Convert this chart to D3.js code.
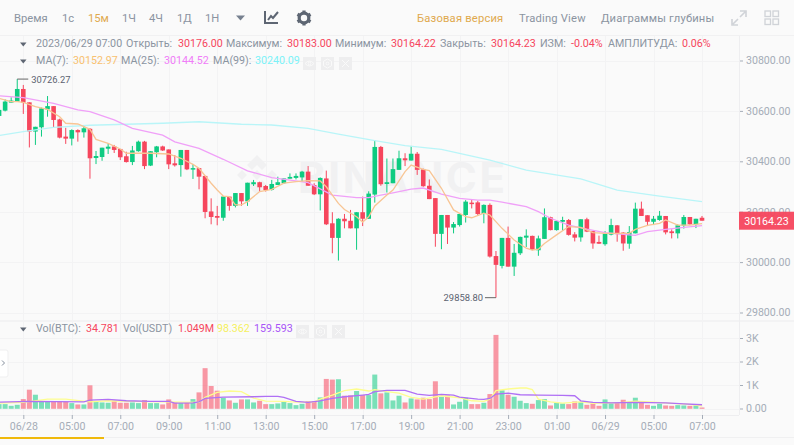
<!DOCTYPE html>
<html><head><meta charset="utf-8">
<script src="https://cdnjs.cloudflare.com/ajax/libs/d3/7.8.5/d3.min.js"></script>
<style>html,body{margin:0;padding:0;background:#fafafa;overflow:hidden}svg{display:block}text{font-family:Roboto,"Noto Sans",sans-serif}</style>
</head><body><svg id="c" width="794" height="445"></svg>
<script>
const opens=[30580,30601,30633,30637,30687,30634,30518,30535,30606,30619,30566,30498,30490,30524,30515,30529,30413,30417,30450,30459,30449,30420,30397,30440,30478,30383,30436,30459,30447,30392,30385,30445,30367,30373,30342,30201,30183,30176,30260,30223,30274,30241,30309,30317,30302,30287,30306,30313,30331,30334,30336,30359,30306,30269,30332,30154,30096,30172,30164,30134,30198,30172,30268,30457,30310,30313,30366,30412,30403,30430,30368,30303,30254,30112,30187,30137,30147,30187,30236,30237,30191,30227,30024,29985,30096,29982,30035,30097,30104,30047,30092,30178,30127,30160,30167,30110,30098,30170,30123,30080,30071,30109,30146,30117,30073,30114,30212,30186,30160,30167,30183,30122,30114,30145,30179,30150,30176];
const closes=[30604,30637,30641,30687,30633,30518,30537,30610,30619,30564,30494,30490,30524,30515,30531,30412,30421,30454,30458,30445,30416,30397,30443,30478,30381,30440,30459,30443,30388,30384,30445,30368,30373,30339,30199,30179,30176,30260,30223,30274,30241,30315,30317,30297,30286,30310,30317,30332,30338,30342,30359,30303,30269,30334,30150,30096,30172,30162,30134,30198,30172,30272,30457,30309,30317,30369,30412,30404,30430,30366,30301,30250,30112,30187,30137,30151,30191,30240,30231,30191,30227,30022,29989,30096,29982,30037,30100,30105,30048,30094,30178,30127,30163,30167,30108,30097,30170,30121,30074,30073,30113,30147,30111,30074,30119,30212,30183,30160,30172,30184,30118,30115,30146,30179,30150,30172,30164.23];
const highs=[30614,30646,30654,30726.27,30703,30634,30537,30613,30659,30619,30569,30533,30527,30527,30540,30532,30441,30454,30471,30465,30449,30438,30461,30482,30481,30440,30461,30462,30447,30425,30445,30445,30389,30373,30342,30253,30223,30260,30260,30274,30274,30315,30326,30319,30306,30326,30339,30332,30352,30352,30362,30381,30313,30336,30363,30198,30174,30191,30207,30198,30260,30281,30484,30461,30411,30411,30442,30432,30461,30437,30371,30328,30254,30187,30187,30159,30191,30246,30249,30243,30229,30233,30044,30096,30141,30072,30101,30130,30105,30105,30213,30180,30164,30180,30171,30119,30170,30176,30123,30105,30123,30172,30147,30119,30143,30236,30240,30186,30183,30203,30183,30130,30150,30187,30179,30172,30183];
const lows=[30577,30598,30633,30637,30588,30455,30465,30498,30577,30533,30491,30469,30463,30478,30494,30331,30389,30402,30429,30433,30405,30395,30385,30438,30369,30381,30416,30441,30369,30379,30339,30365,30330,30289,30174,30150,30146,30164,30204,30217,30223,30223,30302,30280,30280,30284,30306,30310,30331,30328,30319,30303,30266,30205,30147,30035,30006,30134,30134,30049,30143,30172,30236,30303,30276,30313,30366,30381,30403,30346,30299,30250,30061,30051,30072,30114,30141,30157,30213,30183,30154,30018,29858.8,29975,29982,29945,30028,30060,30047,30025,30092,30126,30125,30125,30105,30082,30081,30119,30053,30072,30065,30106,30081,30045,30053,30114,30183,30143,30147,30164,30110,30094,30094,30133,30148,30135,30164.22];
const volumes=[186,186,114,157,400,801,586,300,300,300,286,286,229,172,172,987,315,257,243,329,243,243,257,229,358,229,229,172,386,257,229,243,400,686,1716,958,758,458,343,243,386,386,257,329,186,186,215,315,229,143,200,315,315,472,1258,1230,1244,543,558,744,572,572,1444,644,686,343,543,257,429,386,458,400,1158,500,558,172,286,458,186,186,243,615,3132,772,586,500,329,229,200,358,400,129,243,215,186,300,286,157,215,114,386,215,229,372,229,458,243,157,114,200,129,114,143,129,114,129,34.781];

const ma7Idx=[0,2,3,4,6,8,10,11,13,15,16,18,20,21,25,28,30,32,33,35,36,37,38,39,40,41,43,45,47,49,51,53,54,56,57,59,60,61,62,64,65,67,68,70,71,73,75,77,78,80,81,83,85,87,88,89,90,92,94,96,98,100,104,105,107,109,110,112,114,116];
const ma7=[30650,30637,30637,30634,30617,30606,30577,30551,30548,30527,30487,30471,30449,30432,30432,30429,30412,30388,30372,30313,30286,30262,30260,30227,30227,30240,30280,30289,30313,30319,30323,30322,30299,30233,30209,30180,30159,30180,30223,30266,30286,30359,30385,30368,30363,30293,30207,30180,30176,30194,30187,30134,30088,30055,30048,30051,30074,30108,30141,30138,30117,30114,30114,30130,30146,30154,30167,30147,30147,30152.97];
const ma25Idx=[0,4,9,13,15,19,22,27,29,33,37,41,45,51,55,59,61,63,65,68,70,73,76,79,81,83,87,89,91,94,97,100,103,105,107,110,113,116];
const ma25=[30660,30653,30630,30604,30597,30564,30531,30504,30477,30451,30408,30362,30335,30315,30266,30256,30256,30266,30275,30290,30294,30270,30253,30246,30246,30238,30220,30200,30174,30147,30131,30117,30110,30106,30121,30130,30138,30144.52];
const ma99Idx=[0,4,9,15,21,27,33,40,45,51,56,62,67,73,81,87,96,102,109,116];
const ma99=[30502,30518,30535,30543,30547,30551,30557,30547,30544,30531,30508,30482,30462,30447,30405,30365,30330,30286,30262,30240.09];

const volMa5Idx=[0,4,8,11,15,18,22,33,34,36,38,40,42,44,47,49,52,53,55,57,59,61,62,64,66,68,70,73,76,78,80,81,82,84,86,87,88,89,91,93,96,98,103,105,108,111,114,116];
const volMa5=[229,257,400,400,286,329,300,257,472,686,744,715,443,315,300,272,286,400,572,758,829,744,801,715,658,472,400,543,458,329,300,400,758,829,872,872,801,400,286,229,286,215,257,315,272,215,172,98.362];
const volMa10Idx=[0,5,14,15,18,21,25,28,29,32,33,34,37,42,44,46,47,49,51,53,55,57,60,61,62,64,67,69,71,73,75,76,79,80,81,82,84,86,89,93,95,96,98,101,105,110,113,116];
const volMa10=[272,300,286,358,386,329,300,300,229,243,286,429,486,500,515,515,472,300,257,329,429,500,572,600,715,772,772,615,558,600,572,486,400,386,429,615,658,586,572,558,543,329,257,243,257,243,200,159.593];

const priceTicks=[30800,30600,30400,30200,30000,29800];
const volTicks=[3000,2000,1000,0];
const volTickLabels=["3K","2K","1K","0.00"];
const timeTickIdx=[4,12,20,28,36,44,52,60,68,76,84,92,100,108,116];
const timeLabels=["06/28","05:00","07:00","09:00","11:00","13:00","15:00","17:00","19:00","21:00","23:00","01:00","06/29","05:00","07:00"];
const navItems=["Время","1с","15м","1Ч","4Ч","1Д","1Н"];
const navX=[14,62,88,122,149,177,205];
const navRight=["Базовая версия","Trading View","Диаграммы глубины"];
const navRightX=[417,519,601];
const lastPrice=30164.23, maxPrice=30726.27, minPrice=29858.80;

const RED="#f6465d",GREEN="#0ecb81",GRAY="#8b94a1",LIGHT="#a5adb8";
const svg=d3.select("#c");
const xScale=d3.scaleLinear().domain([4,116]).range([23.3,702]);
const yScale=d3.scaleLinear().domain([29800,30800]).range([312.5,60.5]);
const vScale=d3.scaleLinear().domain([0,3000]).range([408.5,338]);
const panelRight=739;

// backgrounds
svg.append("rect").attr("width",794).attr("height",445).attr("fill","#fafafa");
svg.append("line").attr("x1",0).attr("x2",794).attr("y1",35.5).attr("y2",35.5).attr("stroke","#f1f1f2");
svg.append("rect").attr("x",0).attr("y",320).attr("width",794).attr("height",2).attr("fill","#f3f3f4");
svg.append("line").attr("x1",panelRight+.5).attr("x2",panelRight+.5).attr("y1",36).attr("y2",415).attr("stroke","#eeeef0");
svg.append("line").attr("x1",0).attr("x2",panelRight).attr("y1",415.5).attr("y2",415.5).attr("stroke","#eeeef0");
svg.append("line").attr("x1",0).attr("x2",794).attr("y1",437.5).attr("y2",437.5).attr("stroke","#f0f0f1");
svg.append("rect").attr("x",0).attr("y",437).attr("width",104).attr("height",2).attr("fill","#f0b90b");

// grid
const gridG=svg.append("g").attr("stroke","#f3f3f4").attr("shape-rendering","crispEdges");
timeTickIdx.forEach(i=>gridG.append("line").attr("x1",Math.round(xScale(i))+.5).attr("x2",Math.round(xScale(i))+.5).attr("y1",36).attr("y2",415));
priceTicks.forEach(p=>gridG.append("line").attr("x1",0).attr("x2",panelRight).attr("y1",Math.round(yScale(p))+.5).attr("y2",Math.round(yScale(p))+.5));
volTicks.forEach(p=>gridG.append("line").attr("x1",0).attr("x2",panelRight).attr("y1",Math.round(vScale(p))+.5).attr("y2",Math.round(vScale(p))+.5));

// watermark
const wm=svg.append("g").attr("fill","#f1f1f2");
wm.append("path").attr("transform","translate(257,175) scale(1.25)").attr("d","M0,-16L8,-8L4,-4L0,-8L-4,-4L-8,-8ZM-16,0L-12,-4L-8,0L-12,4ZM8,0L12,-4L16,0L12,4ZM0,-4L4,0L0,4L-4,0ZM0,16L-8,8L-4,4L0,8L4,4L8,8Z");
wm.append("text").attr("x",298).attr("y",193).attr("font-size",42).attr("font-weight",700).attr("textLength",207).style("font-family","Inter").text("BINANCE");

// axes
const yAxis=d3.axisRight(yScale).tickValues(priceTicks).tickSize(3).tickPadding(3).tickFormat(d3.format(".2f"));
const yg=svg.append("g").attr("transform",`translate(${panelRight+1},0)`).call(yAxis);
const vAxis=d3.axisRight(vScale).tickValues(volTicks).tickSize(3).tickPadding(3).tickFormat((d,i)=>volTickLabels[i]);
const vg=svg.append("g").attr("transform",`translate(${panelRight+1},0)`).call(vAxis);
const xAxis=d3.axisBottom(xScale).tickValues(timeTickIdx).tickSize(4).tickPadding(3).tickFormat((d,i)=>timeLabels[i]);
const xg=svg.append("g").attr("transform","translate(0,415)").call(xAxis);
[yg,vg,xg].forEach(g=>{g.select(".domain").remove();g.selectAll("line").attr("stroke",LIGHT);
 g.selectAll("text").attr("fill",LIGHT).attr("font-size",10.6).style("font-family","Roboto");});

// volume
const barW=4;
svg.append("g").selectAll("rect").data(volumes).join("rect")
 .attr("x",(d,i)=>xScale(i)-barW/2-.5).attr("width",barW+1)
 .attr("y",d=>Math.min(vScale(d),407.5)).attr("height",d=>Math.max(408.8-vScale(d),1.3))
 .attr("fill",(d,i)=>closes[i]>=opens[i]?GREEN:RED).attr("opacity",.55);
const lineFrom=(scale)=>d3.line().x(d=>xScale(d[0])).y(d=>scale(d[1]));
svg.append("defs").append("clipPath").attr("id","pc").append("rect").attr("x",0).attr("y",36).attr("width",panelRight).attr("height",380);
const lines=svg.append("g").attr("clip-path","url(#pc)").attr("fill","none");
lines.append("path").attr("d",lineFrom(vScale)(volMa5Idx.map((d,i)=>[d,volMa5[i]]))).attr("stroke","#fdfd8f").attr("stroke-width",1.3);
lines.append("path").attr("d",lineFrom(vScale)(volMa10Idx.map((d,i)=>[d,volMa10[i]]))).attr("stroke","#b070f5").attr("stroke-width",1.3);

// candles
const cg=svg.append("g").attr("clip-path","url(#pc)");
const col=i=>closes[i]>=opens[i]?GREEN:RED;
cg.selectAll(".w").data(highs).join("line").attr("class","w")
 .attr("x1",(d,i)=>xScale(i)).attr("x2",(d,i)=>xScale(i))
 .attr("y1",d=>yScale(d)).attr("y2",(d,i)=>yScale(lows[i]))
 .attr("stroke",(d,i)=>col(i)).attr("stroke-width",1);
cg.selectAll(".b").data(opens).join("rect").attr("class","b")
 .attr("x",(d,i)=>xScale(i)-2.3).attr("width",4.6)
 .attr("y",(d,i)=>yScale(Math.max(d,closes[i])))
 .attr("height",(d,i)=>Math.max(Math.abs(yScale(d)-yScale(closes[i])),1.5))
 .attr("fill",(d,i)=>col(i));

// price MA lines
const pl=svg.append("g").attr("clip-path","url(#pc)").attr("fill","none").attr("stroke-width",1.3);
pl.append("path").attr("d",lineFrom(yScale)(ma99Idx.map((d,i)=>[d,ma99[i]]))).attr("stroke","#b9f5f8");
pl.append("path").attr("d",lineFrom(yScale)(ma25Idx.map((d,i)=>[d,ma25[i]]))).attr("stroke","#f0a0f8");
pl.append("path").attr("d",lineFrom(yScale)(ma7Idx.map((d,i)=>[d,ma7[i]]))).attr("stroke","#f8c594");

// extreme labels
const hiIdx=highs.indexOf(maxPrice), loIdx=lows.indexOf(minPrice);
const ann=svg.append("g").attr("font-size",9.4).attr("fill","#5a6270").style("font-family","Roboto");
ann.append("line").attr("x1",xScale(hiIdx)).attr("x2",xScale(hiIdx)+11).attr("y1",yScale(maxPrice)).attr("y2",yScale(maxPrice)).attr("stroke","#666");
ann.append("text").attr("x",xScale(hiIdx)+14).attr("y",yScale(maxPrice)+3.5).text(d3.format(".2f")(maxPrice));
ann.append("line").attr("x1",xScale(loIdx)-11).attr("x2",xScale(loIdx)).attr("y1",yScale(minPrice)).attr("y2",yScale(minPrice)).attr("stroke","#666");
ann.append("text").attr("x",xScale(loIdx)-13).attr("y",yScale(minPrice)+3.5).attr("text-anchor","end").text(d3.format(".2f")(minPrice));

// last price tag
const tagY=yScale(lastPrice);
svg.append("rect").attr("x",739).attr("y",tagY-9).attr("width",55).attr("height",18).attr("fill",RED).attr("opacity",.95);
svg.append("text").attr("x",766.5).attr("y",tagY+4).attr("text-anchor","middle").attr("fill","#fff").attr("font-size",10.6).text(d3.format(".2f")(lastPrice));

// nav
navItems.forEach((t,i)=>svg.append("text").attr("x",navX[i]).attr("y",22).attr("font-size",11.2).attr("fill",i==2?"#e0a94e":GRAY).text(t));
navRight.forEach((t,i)=>svg.append("text").attr("x",navRightX[i]).attr("y",22).attr("font-size",11.2).attr("letter-spacing",.2).attr("fill",i==0?"#e0a94e":GRAY).text(t));
svg.append("path").attr("d","M236,15.5h9l-4.5,5z").attr("fill","#76808f");
svg.append("path").attr("d","M265,11v12h13M268,20l3,-4 2,2 5,-6").attr("fill","none").attr("stroke","#5e6673").attr("stroke-width",2);
const gear=svg.append("g").attr("transform","translate(304,18)");
gear.append("circle").attr("r",4.8).attr("fill","none").attr("stroke","#5e6673").attr("stroke-width",3.2);
d3.range(6).forEach(k=>gear.append("rect").attr("x",-1.6).attr("y",-7.5).attr("width",3.2).attr("height",3).attr("fill","#5e6673").attr("transform",`rotate(${k*60})`));
svg.append("path").attr("d","M733,24l5,-5M745,12l-5,5M740,11h6v6M732,19v6h6").attr("fill","none").attr("stroke","#d0d3d8").attr("stroke-width",1.6);
const gs=svg.append("g").attr("fill","none").attr("stroke","#d0d3d8").attr("stroke-width",1.3);
[[765,11],[773,11],[765,19],[773,19]].forEach(p=>gs.append("rect").attr("x",p[0]).attr("y",p[1]).attr("width",5.5).attr("height",5.5));

// legend rows
function row(y,items){
 svg.append("path").attr("d",`M20,${y-3.5}h6.5l-3.25,4z`).attr("fill","#5e6673");
 items.forEach(it=>svg.append("text").attr("y",y+1).attr("font-size",10.7).attr("x",it[2]).attr("fill",it[1]).text(it[0]));
}
row(46,[["2023/06/29 07:00",GRAY,36],["Открыть:",GRAY,126],["30176.00",RED,178],["Максимум:",GRAY,226],["30183.00",RED,287],["Минимум:",GRAY,335],["30164.22",RED,391],["Закрыть:",GRAY,440],["30164.23",RED,491],["ИЗМ:",GRAY,540],["-0.04%",RED,571],["АМПЛИТУДА:",GRAY,608],["0.06%",RED,682]]);
row(63,[["MA(7):",GRAY,36],["30152.97","#f8c16f",73],["MA(25):",GRAY,121],["30144.52","#f07cf8",164],["MA(99):",GRAY,213],["30240.09","#7cf2f8",255]]);
row(331,[["Vol(BTC):",GRAY,36],["34.781",RED,86],["Vol(USDT)",GRAY,123],["1.049M",RED,178],["98.362","#f5f05f",217],["159.593","#a855f7",254]]);
// legend buttons: eye, hexagon gear, close
[[303,321,339,57],[296,314,332,325]].forEach(r=>{
 const y=r[3];
 [r[0],r[1],r[2]].forEach(x=>svg.append("rect").attr("x",x).attr("y",y).attr("width",13).attr("height",13).attr("fill","#eeeeef"));
 const ic=svg.append("g").attr("fill","none").attr("stroke","#fafafa").attr("stroke-width",1);
 ic.append("path").attr("d",`M${r[0]+2},${y+6.5}q4.5,-5 9,0q-4.5,5 -9,0z`);
 ic.append("circle").attr("cx",r[0]+6.5).attr("cy",y+6.5).attr("r",1.4);
 ic.append("path").attr("d",`M${r[1]+6.5},${y+2}l4,2.25v4.5l-4,2.25l-4,-2.25v-4.5z`);
 ic.append("circle").attr("cx",r[1]+6.5).attr("cy",y+6.5).attr("r",1.4);
 ic.append("path").attr("d",`M${r[2]+3},${y+3}l7,7M${r[2]+10},${y+3}l-7,7`);
});

// side tab
svg.append("rect").attr("x",-3).attr("y",350).attr("width",11).attr("height",27).attr("rx",2).attr("fill","#fff").attr("stroke","#efeff0");
svg.append("path").attr("d","M2,360.5l2.5,2.5 -2.5,2.5").attr("fill","none").attr("stroke","#848e9c");
</script></body></html>
